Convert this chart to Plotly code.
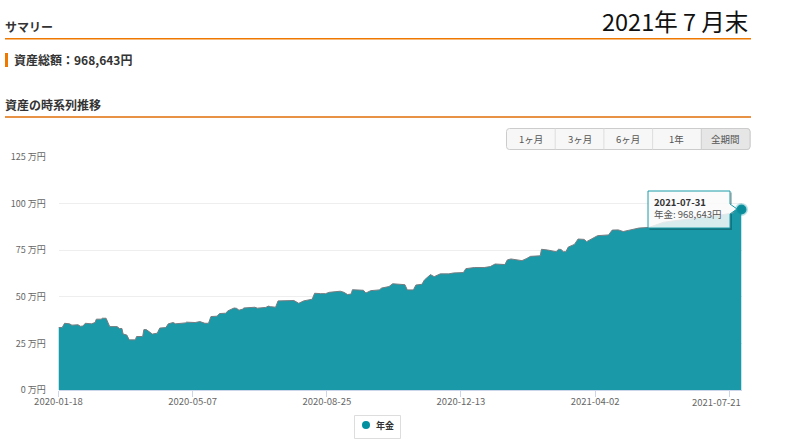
# asset history chart
import plotly.graph_objects as go

dates = [
    "2020-01-18", "2020-01-21", "2020-01-23", "2020-01-27", "2020-01-29", "2020-02-03", "2020-02-05", "2020-02-07",
    "2020-02-09", "2020-02-12", "2020-02-14", "2020-02-17", "2020-02-18", "2020-02-22", "2020-02-23", "2020-02-26",
    "2020-02-29", "2020-03-06", "2020-03-08", "2020-03-10", "2020-03-11", "2020-03-14", "2020-03-16", "2020-03-21",
    "2020-03-22", "2020-03-27", "2020-03-28", "2020-03-30", "2020-04-01", "2020-04-04", "2020-04-08", "2020-04-10",
    "2020-04-15", "2020-04-17", "2020-04-21", "2020-04-23", "2020-05-01", "2020-05-02", "2020-05-09", "2020-05-13",
    "2020-05-17", "2020-05-20", "2020-05-22", "2020-05-27", "2020-05-29", "2020-06-03", "2020-06-05", "2020-06-10",
    "2020-06-12", "2020-06-14", "2020-06-17", "2020-06-18", "2020-06-27", "2020-06-29", "2020-07-06", "2020-07-08",
    "2020-07-10", "2020-07-14", "2020-07-16", "2020-07-29", "2020-08-02", "2020-08-06", "2020-08-13", "2020-08-15",
    "2020-08-20", "2020-08-24", "2020-08-27", "2020-09-05", "2020-09-08", "2020-09-11", "2020-09-14", "2020-09-15",
    "2020-09-24", "2020-09-26", "2020-09-30", "2020-10-07", "2020-10-09", "2020-10-15", "2020-10-18", "2020-10-28",
    "2020-10-30", "2020-11-04", "2020-11-06", "2020-11-11", "2020-11-13", "2020-11-18", "2020-11-21", "2020-11-26",
    "2020-12-03", "2020-12-07", "2020-12-15", "2020-12-17", "2020-12-24", "2021-01-01", "2021-01-06", "2021-01-10",
    "2021-01-18", "2021-01-20", "2021-01-23", "2021-02-01", "2021-02-05", "2021-02-08", "2021-02-16", "2021-02-17",
    "2021-02-22", "2021-03-01", "2021-03-03", "2021-03-05", "2021-03-07", "2021-03-09", "2021-03-11", "2021-03-14",
    "2021-03-16", "2021-03-19", "2021-03-24", "2021-03-26", "2021-03-29", "2021-03-31", "2021-04-04", "2021-04-13",
    "2021-04-16", "2021-04-21", "2021-04-25", "2021-04-29", "2021-05-08", "2021-05-16", "2021-05-28", "2021-06-11",
    "2021-06-28", "2021-07-14", "2021-07-24", "2021-07-26", "2021-07-31",
]
values = [
    33.5, 33.5, 35.8, 35.5, 34.8, 35.0, 34.2, 34.3,
    35.8, 35.6, 35.5, 36.2, 38.0, 38.0, 38.5, 38.5,
    34.0, 34.0, 33.0, 33.0, 30.0, 29.5, 26.9, 26.9,
    28.7, 28.7, 32.4, 32.4, 31.3, 30.0, 30.5, 33.2,
    33.5, 35.5, 36.2, 35.5, 36.0, 36.4, 36.2, 36.7,
    35.8, 35.8, 39.4, 39.6, 41.0, 41.2, 42.5, 44.0,
    43.8, 42.8, 43.4, 44.0, 44.4, 43.9, 44.3, 45.0,
    44.7, 44.4, 47.8, 48.0, 46.5, 47.8, 48.7, 51.9,
    51.7, 51.7, 52.4, 53.0, 52.4, 51.2, 51.5, 53.8,
    53.5, 52.0, 53.3, 53.7, 54.7, 55.5, 57.0, 56.5,
    53.7, 53.7, 56.3, 56.7, 59.0, 61.9, 60.8, 62.3,
    62.3, 62.8, 63.0, 65.1, 65.7, 65.7, 66.2, 67.6,
    67.3, 69.8, 70.3, 69.4, 70.6, 71.7, 72.0, 75.5,
    75.1, 74.2, 75.5, 75.4, 74.2, 74.2, 76.7, 77.8,
    78.1, 81.0, 80.8, 79.6, 80.6, 81.5, 82.8, 83.2,
    85.8, 85.9, 85.0, 85.6, 86.9, 87.2, 90.0, 91.2,
    92.4, 93.9, 95.0, 97.0, 96.8643,
]
y_ticks = [0, 25, 50, 75, 100, 125]
y_labels = ["0 万円", "25 万円", "50 万円", "75 万円", "100 万円", "125 万円"]
x_ticks = ["2020-01-18", "2020-05-07", "2020-08-25", "2020-12-13", "2021-04-02", "2021-07-21"]
x_labels = ["2020-01-18", "2020-05-07", "2020-08-25", "2020-12-13", "2021-04-02", ""]
buttons = ["1ヶ月", "3ヶ月", "6ヶ月", "1年", "全期間"]

W, H = 790, 445
JP = "Noto Sans CJK JP"


def px(x):
    return x / W


def py(y):
    return 1 - y / H


def rect(x0, y0, x1, y1, fill, line="rgba(0,0,0,0)", lw=0):
    return dict(type="rect", xref="paper", yref="paper", x0=px(x0), x1=px(x1), y0=py(y0), y1=py(y1),
                fillcolor=fill, line=dict(color=line, width=lw))


def text(x, y, s, size, color="#333333", bold=False, anchor="left", family=JP):
    # annotations carry about 2px of padding on the anchored side
    if anchor == "left":
        x = x - 2
    if anchor == "right":
        x = x + 2
    return dict(xref="paper", yref="paper", x=px(x), y=py(y), text="<b>" + s + "</b>" if bold else s,
                showarrow=False, xanchor=anchor, yanchor="middle", align="left",
                font=dict(family=family, size=size, color=color))


def poly(points, fill, line="rgba(0,0,0,0)", lw=0):
    path = "M " + " L ".join(str(px(a)) + " " + str(py(b)) for a, b in points) + " Z"
    return dict(type="path", xref="paper", yref="paper", path=path, fillcolor=fill, line=dict(color=line, width=lw))


def round_box(x0, y0, x1, y1, r, fill, line, left=True):
    # box with rounded right corners, left corners too if asked
    p = lambda a, b: str(px(a)) + " " + str(py(b))
    if left:
        path = "M " + p(x0 + r, y0)
    else:
        path = "M " + p(x0, y0)
    path += " L " + p(x1 - r, y0) + " Q " + p(x1, y0) + " " + p(x1, y0 + r)
    path += " L " + p(x1, y1 - r) + " Q " + p(x1, y1) + " " + p(x1 - r, y1)
    if left:
        path += " L " + p(x0 + r, y1) + " Q " + p(x0, y1) + " " + p(x0, y1 - r)
        path += " L " + p(x0, y0 + r) + " Q " + p(x0, y0) + " " + p(x0 + r, y0)
    else:
        path += " L " + p(x0, y1)
    path += " Z"
    return dict(type="path", xref="paper", yref="paper", path=path, fillcolor=fill, line=dict(color=line, width=1))


fig = go.Figure()
fig.add_trace(go.Scatter(x=dates, y=values, mode="lines", name="年金", fill="tozeroy",
                         fillcolor="#1a9aa8", line=dict(color="#767c80", width=1), hoverinfo="skip"))
fig.add_trace(go.Scatter(x=dates[-1:], y=values[-1:], mode="markers", showlegend=False, hoverinfo="skip", cliponaxis=False,
                         marker=dict(size=10, color="#0b8c9b", line=dict(color="rgba(26,154,168,0.3)", width=3))))

shapes = []
shapes.append(rect(5, 38, 751, 39.6, "#ee7800"))
shapes.append(rect(5, 53, 8, 67, "#ee7800"))
shapes.append(rect(5, 116, 751, 118, "#e89245"))

# range buttons
bx = 506.5
bw = 48.7
shapes.append(round_box(bx, 128.5, bx + 5 * bw, 149.5, 3, "#f7f7f7", "#cccccc"))
shapes.append(round_box(bx + 4 * bw, 128.5, bx + 5 * bw, 149.5, 3, "#e6e6e6", "#cccccc", left=False))
for i in range(1, 4):
    shapes.append(dict(type="line", xref="paper", yref="paper", x0=px(bx + i * bw), x1=px(bx + i * bw),
                       y0=py(128.5), y1=py(149.5), line=dict(color="#dddddd", width=1)))

# tooltip with its pointer, shadow only along the right and bottom edges
tip = [(648, 191), (730, 191), (730, 204), (737, 209), (730, 214), (730, 228), (648, 228)]
shapes.append(rect(649.5, 228, 732, 230, "rgba(0,0,0,0.25)"))
shapes.append(rect(730, 214, 732, 228, "rgba(0,0,0,0.25)"))
shapes.append(rect(730, 192.5, 732, 204, "rgba(0,0,0,0.25)"))
shapes.append(poly(tip, "rgba(250,250,250,0.85)", "#1a9aa8", 1))

# legend box
shapes.append(rect(354.5, 415.5, 400.5, 438.5, "#ffffff", "#dddddd", 1))
shapes.append(dict(type="circle", xref="paper", yref="paper", x0=px(362), x1=px(370), y0=py(421), y1=py(429),
                   fillcolor="#00909f", line=dict(width=0)))

notes = []
notes.append(text(5, 27, "サマリー", 12, bold=True))
notes.append(text(14, 59.5, "資産総額：968,643円", 12, bold=True))
notes.append(text(5, 104, "資産の時系列推移", 12, bold=True))
notes.append(text(748, 21, "2021年 7 月末", 23.5, color="#111111", anchor="right"))
for i in range(len(buttons)):
    notes.append(text(bx + (i + 0.5) * bw, 138.5, buttons[i], 9.5, color="#555555", anchor="center"))
notes.append(text(654, 208, "<b>2021-07-31</b><br><span style='color:#555555'>年金: 968,643円</span>", 9.5))
notes.append(text(376, 425.5, "年金", 9, bold=True))
notes.append(text(716, 401.5, "2021-07-21", 9.5, color="#666666", anchor="center"))

fig.update_layout(
    width=W, height=H, autosize=False,
    margin=dict(l=0, r=0, t=0, b=0),
    paper_bgcolor="white", plot_bgcolor="white",
    showlegend=False,
    shapes=shapes, annotations=notes,
    font=dict(family=JP, color="#666666"),
    xaxis=dict(domain=[px(58.5), px(741.5)], range=["2020-01-18", "2021-07-31"], type="date", automargin=False,
               tickmode="array", tickvals=x_ticks, ticktext=x_labels,
               tickfont=dict(size=9.5, color="#666666"), ticks="outside", ticklen=6, tickcolor="#ccd6eb",
               ticklabelstandoff=-3,
               showgrid=False, showline=True, linecolor="#ccd6eb", linewidth=1, zeroline=False),
    yaxis=dict(domain=[py(390), py(157)], range=[0, 125], automargin=False,
               tickmode="array", tickvals=y_ticks, ticktext=y_labels,
               tickfont=dict(size=9, color="#666666"), ticks="outside", ticklen=10, tickcolor="rgba(0,0,0,0)",
               showgrid=True, gridcolor="#eeeeee", gridwidth=1, showline=False, zeroline=False),
)

fig.write_html("out.html", config={"displayModeBar": False}, post_script="document.body.style.margin='0';")
